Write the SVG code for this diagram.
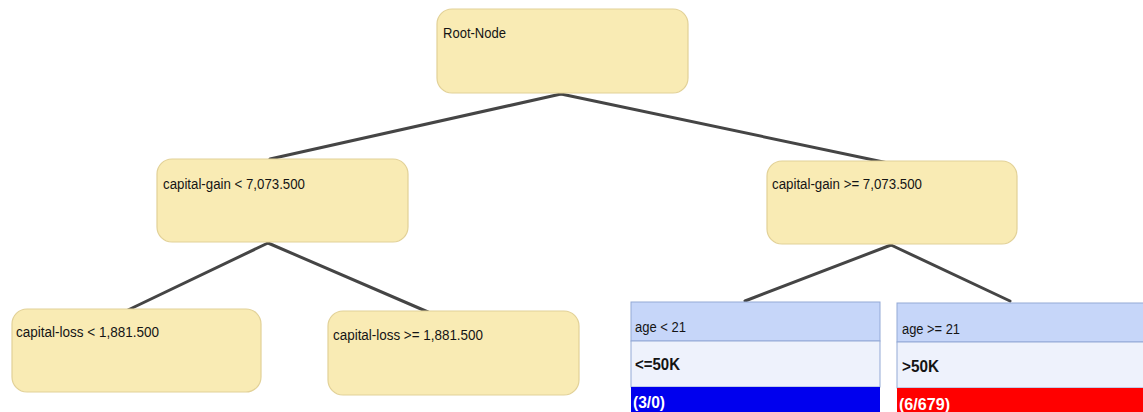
<svg xmlns="http://www.w3.org/2000/svg" width="1143" height="412" viewBox="0 0 1143 412">
<style>
.node{fill:#f9ebb4;stroke:#e2d197;stroke-width:1.2}
.t{font-family:"Liberation Sans Narrow","Liberation Sans",Arial,sans-serif;font-size:15.5px;fill:#141414}
.b{font-weight:bold;font-size:17px}
.w{fill:#ffffff;font-weight:bold;font-size:16px}
.hdr{fill:#c6d6f9;stroke:#93a9d6;stroke-width:1}
.mid{fill:#eef2fc;stroke:#93a9d6;stroke-width:1}
.edge{stroke:#454545;stroke-width:3;fill:none;stroke-linecap:round}
</style>
<rect width="1143" height="412" fill="#ffffff"/>
<g id="connectors">
<line class="edge" x1="561" y1="94" x2="270" y2="159"/>
<line class="edge" x1="561" y1="94" x2="888" y2="163"/>
<line class="edge" x1="268" y1="243" x2="128" y2="310"/>
<line class="edge" x1="268" y1="243" x2="428" y2="312"/>
<line class="edge" x1="891" y1="245" x2="745" y2="301"/>
<line class="edge" x1="891" y1="245" x2="1010" y2="301"/>
</g>
<g id="root">
<rect class="node" x="437" y="9" width="251" height="84" rx="15"/>
<text class="t" x="443" y="38" textLength="63" lengthAdjust="spacingAndGlyphs">Root-Node</text>
</g>
<g id="gain-lt">
<rect class="node" x="157" y="159" width="251" height="83" rx="15"/>
<text class="t" x="163" y="189" textLength="142" lengthAdjust="spacingAndGlyphs">capital-gain &lt; 7,073.500</text>
</g>
<g id="gain-ge">
<rect class="node" x="767" y="161" width="250" height="83" rx="15"/>
<text class="t" x="772" y="189" textLength="150" lengthAdjust="spacingAndGlyphs">capital-gain &gt;= 7,073.500</text>
</g>
<g id="loss-lt">
<rect class="node" x="12" y="309" width="249" height="83" rx="15"/>
<text class="t" x="16" y="337" textLength="143" lengthAdjust="spacingAndGlyphs">capital-loss &lt; 1,881.500</text>
</g>
<g id="loss-ge">
<rect class="node" x="328" y="311" width="251" height="84" rx="15"/>
<text class="t" x="333" y="340" textLength="150" lengthAdjust="spacingAndGlyphs">capital-loss &gt;= 1,881.500</text>
</g>
<g id="age-lt">
<rect class="hdr" x="631" y="302" width="249" height="39"/>
<rect class="mid" x="631" y="341" width="249" height="46"/>
<rect x="631" y="387" width="249" height="26" fill="#0000ee"/>
<text class="t" x="635" y="332" textLength="51" lengthAdjust="spacingAndGlyphs">age &lt; 21</text>
<text class="t b" x="635" y="370" textLength="45" lengthAdjust="spacingAndGlyphs">&lt;=50K</text>
<text class="t w" x="633" y="408" textLength="32" lengthAdjust="spacingAndGlyphs">(3/0)</text>
</g>
<g id="age-ge">
<rect class="hdr" x="897" y="303" width="250" height="39"/>
<rect class="mid" x="897" y="342" width="250" height="46"/>
<rect x="897" y="388" width="250" height="25" fill="#ff0000"/>
<text class="t" x="902" y="334" textLength="58" lengthAdjust="spacingAndGlyphs">age &gt;= 21</text>
<text class="t b" x="902" y="372" textLength="37" lengthAdjust="spacingAndGlyphs">&gt;50K</text>
<text class="t w" x="899" y="410" textLength="51" lengthAdjust="spacingAndGlyphs">(6/679)</text>
</g>
</svg>
